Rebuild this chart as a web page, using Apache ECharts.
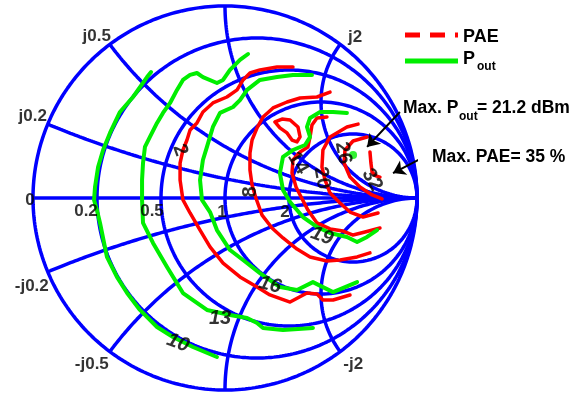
<!DOCTYPE html>
<html>
<head>
<meta charset="utf-8">
<script src="https://cdn.jsdelivr.net/npm/echarts@6/dist/echarts.min.js"></script>
<style>
  html, body { margin: 0; padding: 0; background: #fff; }
  #chart { width: 583px; height: 394px; }
</style>
</head>
<body>
<div id="chart"></div>
<script>
// Smith chart grid (normalised impedance)
const resistanceValues = [0.2, 0.5, 1, 2];
const reactanceValues = [0.2, 0.5, 1, 2, -0.2, -0.5, -1, -2];

// tick labels
const realTickValues = [0, 0.2, 0.5, 1, 2];
const realTickLabels = ['0', '0.2', '0.5', '1', '2'];
const reactanceTickValues = [0.2, 0.5, 2, -0.2, -0.5, -2];
const reactanceTickLabels = ['j0.2', 'j0.5', 'j2', '-j0.2', '-j0.5', '-j2'];

// load-pull contours, reflection coefficient [re, im]
const pout10 = [[-0.385,0.656],[-0.406,0.630],[-0.479,0.526],[-0.547,0.448],[-0.599,0.339],[-0.635,0.250],[-0.661,0.161],[-0.677,0.057],[-0.682,-0.010],[-0.667,-0.063],[-0.651,-0.130],[-0.615,-0.307],[-0.563,-0.411],[-0.510,-0.495],[-0.443,-0.583],[-0.354,-0.672],[-0.271,-0.724],[-0.167,-0.776],[-0.042,-0.828]];
const pout13 = [[0.120,0.750],[0.078,0.719],[0.026,0.667],[-0.010,0.615],[-0.042,0.599],[-0.115,0.630],[-0.146,0.651],[-0.182,0.641],[-0.219,0.615],[-0.250,0.563],[-0.286,0.495],[-0.323,0.443],[-0.354,0.391],[-0.391,0.318],[-0.417,0.266],[-0.427,0.182],[-0.432,0.094],[-0.432,-0.010],[-0.427,-0.130],[-0.375,-0.234],[-0.302,-0.359],[-0.219,-0.495],[-0.094,-0.583],[0.026,-0.609],[0.115,-0.625],[0.167,-0.651],[0.198,-0.677],[0.302,-0.688],[0.458,-0.677]];
const pout16 = [[0.453,0.641],[0.354,0.641],[0.271,0.630],[0.182,0.615],[0.115,0.563],[0.078,0.510],[0.042,0.474],[-0.026,0.443],[-0.063,0.370],[-0.094,0.266],[-0.115,0.198],[-0.130,0.094],[-0.120,-0.010],[-0.078,-0.073],[-0.042,-0.167],[0.026,-0.271],[0.094,-0.323],[0.182,-0.391],[0.286,-0.464],[0.375,-0.479],[0.458,-0.438],[0.510,-0.464],[0.563,-0.490],[0.688,-0.438]];
const pout19 = [[0.635,0.443],[0.563,0.448],[0.495,0.448],[0.443,0.417],[0.427,0.370],[0.443,0.318],[0.417,0.276],[0.354,0.250],[0.302,0.214],[0.286,0.130],[0.302,0.042],[0.339,-0.021],[0.406,-0.099],[0.479,-0.151],[0.547,-0.182],[0.635,-0.203],[0.688,-0.229],[0.740,-0.203],[0.792,-0.167]];
const poutMax = [[0.667, 0.224]];

const pae2 = [[0.354,0.682],[0.271,0.682],[0.182,0.667],[0.130,0.651],[0.094,0.615],[0.063,0.563],[0.010,0.526],[-0.063,0.495],[-0.115,0.448],[-0.146,0.391],[-0.182,0.354],[-0.198,0.302],[-0.219,0.250],[-0.234,0.182],[-0.234,0.094],[-0.219,-0.010],[-0.182,-0.078],[-0.130,-0.167],[-0.078,-0.255],[-0.010,-0.339],[0.078,-0.411],[0.167,-0.464],[0.234,-0.505],[0.339,-0.542],[0.427,-0.495],[0.479,-0.500],[0.510,-0.531],[0.563,-0.531],[0.651,-0.505]];
const pae8 = [[0.547,0.552],[0.479,0.526],[0.391,0.521],[0.323,0.500],[0.250,0.469],[0.198,0.422],[0.167,0.365],[0.141,0.302],[0.130,0.234],[0.130,0.146],[0.141,0.068],[0.161,0.000],[0.193,-0.089],[0.245,-0.156],[0.302,-0.208],[0.375,-0.266],[0.443,-0.307],[0.531,-0.328],[0.599,-0.323],[0.688,-0.307],[0.755,-0.286]];
const pae14 = [[0.531,0.422],[0.479,0.417],[0.453,0.380],[0.443,0.318],[0.432,0.266],[0.391,0.240],[0.354,0.198],[0.349,0.130],[0.370,0.057],[0.391,0.016],[0.432,-0.063],[0.479,-0.130],[0.547,-0.161],[0.615,-0.172],[0.667,-0.193],[0.729,-0.177],[0.807,-0.156]];
const pae14Island = [[0.260,0.396],[0.297,0.411],[0.339,0.406],[0.380,0.370],[0.391,0.318],[0.375,0.292],[0.349,0.302],[0.323,0.339],[0.286,0.365],[0.260,0.396]];
const pae20 = [[0.693,0.385],[0.635,0.370],[0.547,0.318],[0.510,0.250],[0.505,0.161],[0.521,0.094],[0.547,0.026],[0.599,-0.026],[0.651,-0.073],[0.719,-0.099],[0.797,-0.078]];
const pae26 = [[0.740,0.318],[0.667,0.297],[0.625,0.250],[0.620,0.182],[0.651,0.109],[0.703,0.057],[0.766,0.016],[0.818,-0.005]];
const pae32 = [[0.755,0.240],[0.760,0.182],[0.766,0.135],[0.786,0.115],[0.807,0.109]];

// contour labels and where they sit
const paeLabels = ['2', '8', '14', '20', '26', '32'];
const paeLabelAt = [[-0.234,0.250],[0.135,0.031],[0.380,0.182],[0.505,0.104],[0.615,0.234],[0.766,0.094]];
const poutLabels = ['10', '13', '16', '19'];
const poutLabelAt = [[-0.245,-0.755],[-0.026,-0.625],[0.234,-0.453],[0.505,-0.198]];

// annotation arrows [from, to]
const arrows = [
  [[0.911, 0.448], [0.740, 0.266]],
  [[1.057, 0.224], [0.875, 0.130]]
];

const FONT = "'Liberation Sans', Arial, sans-serif";
const BLUE = '#0000ff';
const RED = '#ff0000';
const GREEN = '#00ee00';

function resistanceCircle(r) {
  const c = r / (1 + r), rad = 1 / (1 + r);
  const pts = [];
  for (let i = 0; i <= 360; i++) {
    const a = i / 360 * 2 * Math.PI;
    pts.push([c + rad * Math.cos(a), rad * Math.sin(a)]);
  }
  return pts;
}

function reactanceArc(x) {
  const pts = [];
  const n = 400;
  for (let i = 0; i < n; i++) {
    const r = Math.tan(i / n * Math.PI / 2);
    const d = (r + 1) * (r + 1) + x * x;
    pts.push([(r * r - 1 + x * x) / d, 2 * x / d]);
  }
  pts.push([1, 0]);
  return pts;
}

function boundaryPoint(x) {
  return [(x * x - 1) / (x * x + 1), 2 * x / (x * x + 1)];
}

function gridLine(data) {
  return {
    type: 'line', data, showSymbol: false, silent: true, clip: false,
    lineStyle: { color: BLUE, width: 3.5 }, z: 1
  };
}

function contour(data, color, width) {
  return {
    type: 'line', data, showSymbol: false, silent: true, clip: false,
    lineStyle: { color, width, cap: 'round', join: 'round' }, z: 2
  };
}

function textSeries(items, extra) {
  return {
    type: 'scatter', symbolSize: 1, silent: true, clip: false, z: 5,
    itemStyle: { color: 'rgba(0,0,0,0)' },
    label: Object.assign({
      show: true, position: 'inside', formatter: '{b}', color: '#000',
      fontWeight: 'bold', fontSize: 17, fontFamily: FONT
    }, extra),
    data: items
  };
}

const series = [];
series.push(gridLine(resistanceCircle(0)));
resistanceValues.forEach(r => series.push(gridLine(resistanceCircle(r))));
reactanceValues.forEach(x => series.push(gridLine(reactanceArc(x))));
series.push(gridLine([[-1, 0], [1, 0]]));

[pae2, pae8, pae14, pae14Island, pae20, pae26, pae32].forEach(d => series.push(contour(d, RED, 3.5)));
[pout10, pout13, pout16, pout19].forEach(d => series.push(contour(d, GREEN, 4)));

series.push({
  type: 'scatter', data: poutMax, symbolSize: 8, silent: true, z: 3,
  itemStyle: { color: GREEN }
});

// axis tick labels
const realOffsets = [[-3, 2], [-11, 13], [-9, 13], [-3, 14], [-4, 14]];
series.push(textSeries(realTickValues.map((r, i) => ({
  name: realTickLabels[i], value: [(r - 1) / (r + 1), 0],
  label: { offset: realOffsets[i] }
}))));
const reactOffsets = [[-15, -8], [-13, -8], [15, -7], [-16, 14], [-18, 13], [13, 13]];
series.push(textSeries(reactanceTickValues.map((x, i) => ({
  name: reactanceTickLabels[i], value: boundaryPoint(x),
  label: { offset: reactOffsets[i] }
}))));

// contour labels
const paeRot = [-70, 90, -60, -80, -80, -60];
series.push(textSeries(paeLabels.map((t, i) => ({
  name: t, value: paeLabelAt[i], label: { rotate: paeRot[i] }
})), { fontSize: 20 }));
const poutRot = [-20, 0, -15, -20];
series.push(textSeries(poutLabels.map((t, i) => ({
  name: t, value: poutLabelAt[i], label: { rotate: poutRot[i] }
})), { fontSize: 20, fontStyle: 'italic' }));

// arrows
series.push({
  type: 'lines', coordinateSystem: 'cartesian2d', silent: true, z: 6,
  symbol: ['none', 'arrow'], symbolSize: 12,
  lineStyle: { color: '#000', width: 2, opacity: 1 },
  data: arrows.map(a => ({ coords: a }))
});

const boldText = (x, y, text, size) => ({
  type: 'text', x, y, silent: true,
  style: { text, font: 'bold ' + size + 'px ' + FONT, fill: '#000', verticalAlign: 'middle' }
});

const option = {
  animation: false,
  backgroundColor: '#fff',
  grid: { left: 33, top: 6, width: 384, height: 384 },
  xAxis: { type: 'value', min: -1, max: 1, show: false },
  yAxis: { type: 'value', min: -1, max: 1, show: false },
  series,
  graphic: [
    { type: 'line', shape: { x1: 405, y1: 35, x2: 458, y2: 35 }, style: { stroke: RED, lineWidth: 5, lineDash: [15, 10] } },
    boldText(463, 37, 'PAE', 18),
    { type: 'line', shape: { x1: 405, y1: 61, x2: 458, y2: 61 }, style: { stroke: GREEN, lineWidth: 5 } },
    boldText(463, 59, 'P', 18),
    boldText(477, 67, 'out', 12),
    boldText(403, 108, 'Max. P', 17.5),
    boldText(459, 117, 'out', 12),
    boldText(477, 108, '= 21.2 dBm', 17.5),
    boldText(432, 157, 'Max. PAE= 35 %', 17.5)
  ]
};

const chart = echarts.init(document.getElementById('chart'));
chart.setOption(option);
</script>
</body>
</html>
